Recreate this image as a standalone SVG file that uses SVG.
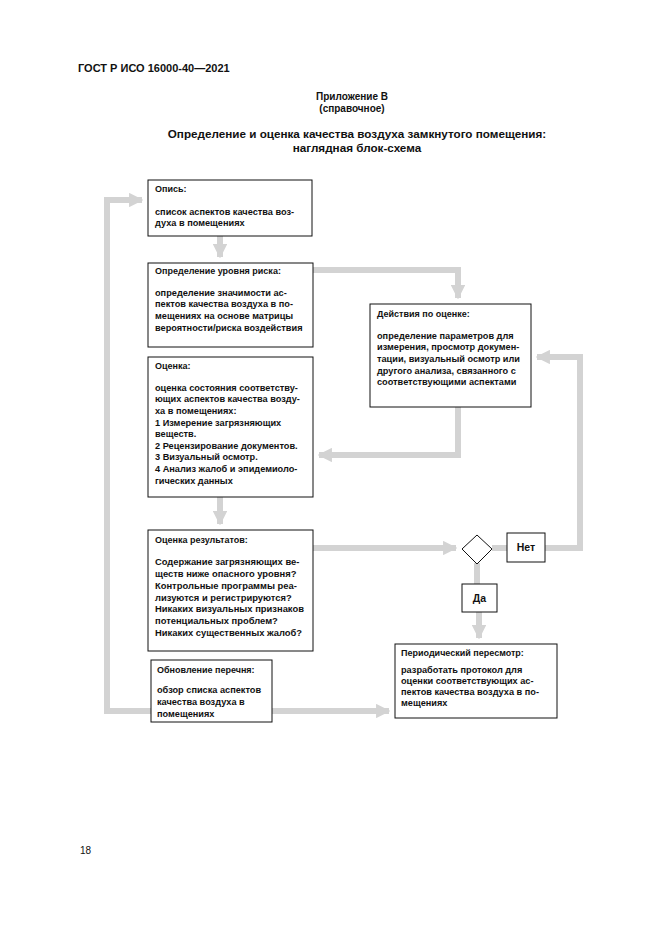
<svg xmlns="http://www.w3.org/2000/svg" width="661" height="935" viewBox="0 0 661 935">
<defs>
<marker id="ah" viewBox="0 0 10 10" refX="9" refY="5" markerWidth="2.4" markerHeight="2.4" orient="auto" markerUnits="strokeWidth">
<path d="M0,0 L10,5 L0,10 z" fill="#d3d3d3"/>
</marker>
</defs>
<style>
text{font-family:"Liberation Sans",Arial,sans-serif;fill:#111}
.hd{font-size:11px;font-weight:bold}
.t{font-size:11.7px;font-weight:bold}
.b{fill:#fff;stroke:#111;stroke-width:1}
.ti{font-size:9px;font-weight:bold}
.tx{font-size:9.2px;font-weight:bold}
.tx5{font-size:9.4px;font-weight:bold}
.big{font-size:10.5px;font-weight:bold}
.c{fill:none;stroke:#d3d3d3;stroke-width:6}
</style>
<rect width="661" height="935" fill="#fff"/>
<text class="hd" x="78" y="72">ГОСТ Р ИСО 16000-40—2021</text>
<text class="hd" x="352" y="100" text-anchor="middle" style="font-size:10px">Приложение В</text>
<text class="hd" x="352" y="112" text-anchor="middle" style="font-size:10px">(справочное)</text>
<text class="t" x="357" y="138" text-anchor="middle">Определение и оценка качества воздуха замкнутого помещения:</text>
<text class="t" x="357" y="152" text-anchor="middle">наглядная блок-схема</text>

<g id="connectors">
<path class="c" d="M220,236 V257" marker-end="url(#ah)"/>
<path class="c" d="M313,270 H458 V298" marker-end="url(#ah)"/>
<path class="c" d="M458,407 V455 H319" marker-end="url(#ah)"/>
<path class="c" d="M220,497 V524" marker-end="url(#ah)"/>
<path class="c" d="M313,548 H456" marker-end="url(#ah)"/>
<path class="c" d="M492,548 H507"/>
<path class="c" d="M545,548 H580 V357 H537" marker-end="url(#ah)"/>
<path class="c" d="M477,563 V584"/>
<path class="c" d="M479,612 V638" marker-end="url(#ah)"/>
<path class="c" d="M272,711 H389" marker-end="url(#ah)"/>
<path class="c" d="M151,711 H107 V200 H142" marker-end="url(#ah)"/>
</g>

<g id="n1">
<rect class="b" x="148" y="180" width="164" height="56"/>
<text class="ti" x="155" y="192">Опись:</text>
<text class="tx" x="155" y="215">список аспектов качества воз-</text>
<text class="tx" x="155" y="226">духа в помещениях</text>
</g>
<g id="n2">
<rect class="b" x="148" y="263" width="165" height="84"/>
<text class="ti" x="155" y="274">Определение уровня риска:</text>
<text class="tx" x="155" y="296">определение значимости ас-</text>
<text class="tx" x="155" y="307">пектов качества воздуха в по-</text>
<text class="tx" x="155" y="319">мещениях на основе матрицы</text>
<text class="tx" x="155" y="331">вероятности/риска воздействия</text>
</g>
<g id="n3">
<rect class="b" x="370" y="304" width="161" height="103"/>
<text class="ti" x="377" y="317">Действия по оценке:</text>
<text class="tx" x="377" y="339">определение параметров для</text>
<text class="tx" x="377" y="350">измерения, просмотр докумен-</text>
<text class="tx" x="377" y="362">тации, визуальный осмотр или</text>
<text class="tx" x="377" y="374">другого анализа, связанного с</text>
<text class="tx" x="377" y="385">соответствующими аспектами</text>
</g>
<g id="n4">
<rect class="b" x="148" y="357" width="165" height="140"/>
<text class="ti" x="155" y="369">Оценка:</text>
<text class="tx" x="155" y="391">оценка состояния соответству-</text>
<text class="tx" x="155" y="402">ющих аспектов качества возду-</text>
<text class="tx" x="155" y="414">ха в помещениях:</text>
<text class="tx" x="155" y="426">1 Измерение загрязняющих</text>
<text class="tx" x="155" y="437">веществ.</text>
<text class="tx" x="155" y="449">2 Рецензирование документов.</text>
<text class="tx" x="155" y="460">3 Визуальный осмотр.</text>
<text class="tx" x="155" y="472">4 Анализ жалоб и эпидемиоло-</text>
<text class="tx" x="155" y="484">гических данных</text>
</g>
<g id="n5">
<rect class="b" x="148" y="530" width="165" height="121"/>
<text class="ti" x="155" y="543">Оценка результатов:</text>
<text class="tx5" x="155" y="565">Содержание загрязняющих ве-</text>
<text class="tx5" x="155" y="577">ществ ниже опасного уровня?</text>
<text class="tx5" x="155" y="589">Контрольные программы реа-</text>
<text class="tx5" x="155" y="601">лизуются и регистрируются?</text>
<text class="tx5" x="155" y="612">Никаких визуальных признаков</text>
<text class="tx5" x="155" y="624">потенциальных проблем?</text>
<text class="tx5" x="155" y="636">Никаких существенных жалоб?</text>
</g>
<g id="n6">
<path class="b" d="M477,535 L492,549 L477,564 L462,549 z"/>
</g>
<g id="n7">
<rect class="b" x="507" y="533" width="38" height="29"/>
<text class="big" x="526" y="551" text-anchor="middle">Нет</text>
</g>
<g id="n8">
<rect class="b" x="462" y="584" width="35" height="28"/>
<text class="big" x="479.5" y="602" text-anchor="middle">Да</text>
</g>
<g id="n9">
<rect class="b" x="395" y="644" width="162" height="74"/>
<text class="ti" x="401" y="656">Периодический пересмотр:</text>
<text class="tx" x="401" y="673">разработать протокол для</text>
<text class="tx" x="401" y="684">оценки соответствующих ас-</text>
<text class="tx" x="401" y="695">пектов качества воздуха в по-</text>
<text class="tx" x="401" y="706">мещениях</text>
</g>
<g id="n10">
<rect class="b" x="151" y="660" width="121" height="62"/>
<text class="ti" x="157" y="673">Обновление перечня:</text>
<text class="tx" x="157" y="693">обзор списка аспектов</text>
<text class="tx" x="157" y="705">качества воздуха в</text>
<text class="tx" x="157" y="717">помещениях</text>
</g>
<text x="80" y="854" style="font-size:10px">18</text>
</svg>
